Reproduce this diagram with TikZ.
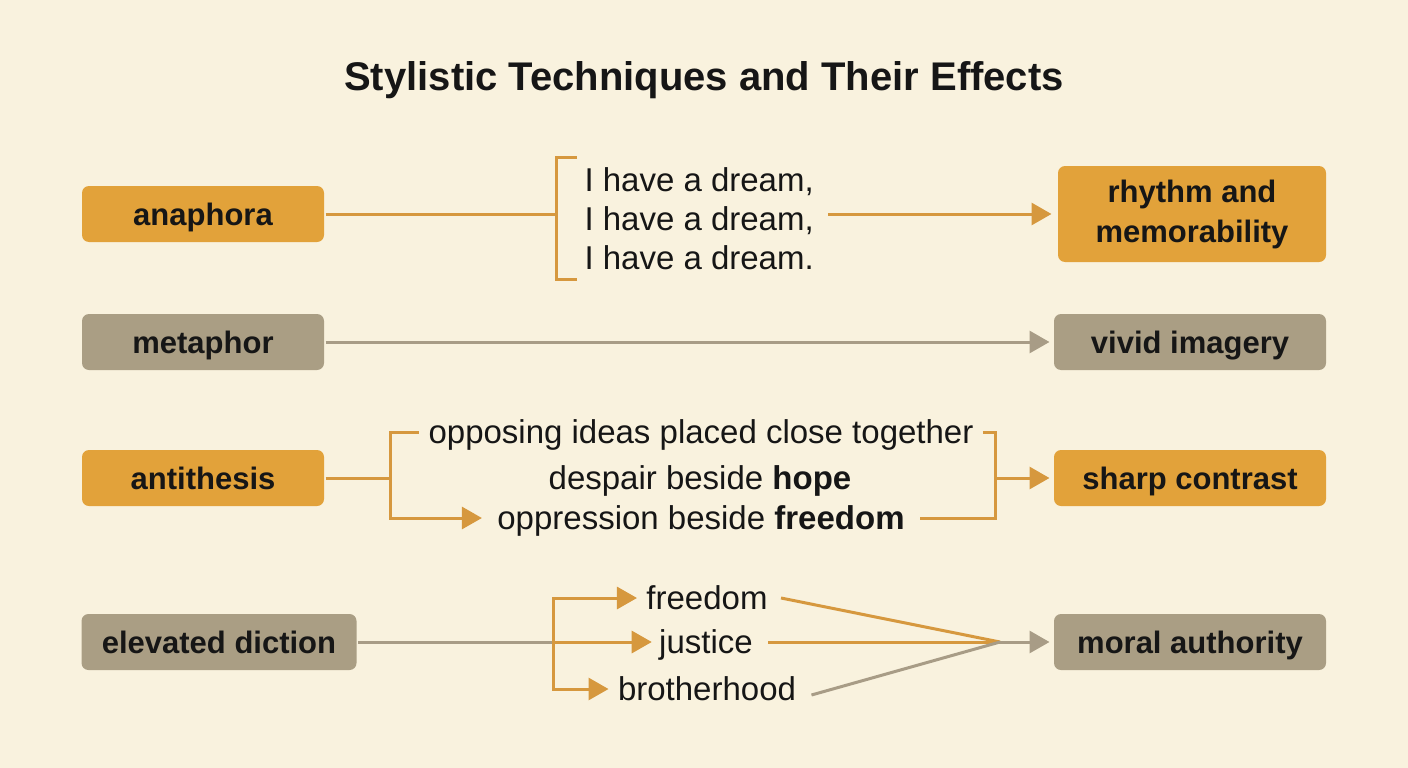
\documentclass[tikz,border=0pt]{standalone}
\usepackage{fontspec}
\setmainfont{Liberation Sans}
\usetikzlibrary{positioning,arrows.meta}
\definecolor{paper}{RGB}{249,242,222}
\definecolor{ochre}{RGB}{226,162,58}
\definecolor{taupe}{RGB}{170,158,132}
\definecolor{ochreline}{RGB}{214,152,62}
\definecolor{taupeline}{RGB}{168,156,134}
\definecolor{ink}{RGB}{22,22,22}

\begin{document}
\begin{tikzpicture}[x=1pt, y=-1pt, >={Triangle[length=20pt,width=22pt]}, line width=3pt,
   tech/.style={rounded corners=7pt, minimum height=56pt, inner sep=0pt, text height=22pt, text depth=0pt, text=ink, font=\fontsize{31}{40}\selectfont\bfseries},
   warm/.style={tech, fill=ochre},
   cool/.style={tech, fill=taupe},
   phrase/.style={inner sep=0pt, text height=22pt, text depth=0pt, text=ink, font=\fontsize{33}{39}\selectfont},
   oline/.style={draw=ochreline},
   gline/.style={draw=taupeline}]
   \fill[paper] (0,0) rectangle (1408,768);
   \useasboundingbox (0,0) rectangle (1408,768);
   \node[font=\fontsize{40}{48}\selectfont\bfseries, text=ink] (title) at (704,80) {Stylistic Techniques and Their Effects};

   % anaphora
   \node[warm, minimum width=242pt] (anaphora) at (203,214) {anaphora};
   \node[warm, minimum width=268pt, minimum height=96pt, text height=, text depth=, align=center] (rhythm) at (1192,214) {rhythm and\\memorability};
   \node[phrase, text height=, text depth=, align=left, anchor=west] (dream) at (583,219) {I have a dream,\\I have a dream,\\I have a dream.};
   \coordinate (brk) at (556,214);
   \draw[oline] (anaphora.east) -- (brk);
   \draw[oline] (577,157) -- (556,157) -- (556,279) -- (577,279);
   \draw[oline, ->] (828,214) -- ([xshift=-5pt]rhythm.west);

   % metaphor
   \node[cool, minimum width=242pt] (metaphor) at (203,342) {metaphor};
   \node[cool, minimum width=272pt] (imagery) at (1190,342) {vivid imagery};
   \draw[gline, ->] (metaphor) -- ([xshift=-3pt]imagery.west);

   % antithesis
   \node[warm, minimum width=242pt] (antithesis) at (203,478) {antithesis};
   \node[warm, minimum width=272pt] (contrast) at (1190,478) {sharp contrast};
   \node[phrase] (opposing) at (701,432) {opposing ideas placed close together};
   \node[phrase] (despair) at (700,478) {despair beside \textbf{hope}};
   \node[phrase] (oppression) at (701,518) {oppression beside \textbf{freedom}};
   \coordinate (split) at (390,478);
   \coordinate (join) at (995,478);
   \draw[oline] (antithesis) -- (split);
   \draw[oline] (split) |- ([xshift=-8pt]opposing.west);
   \draw[oline, ->] (split) |- ([xshift=-14pt]oppression.west);
   \draw[oline] ([xshift=8pt]opposing.east) -| (join);
   \draw[oline] ([xshift=14pt]oppression.east) -| (join);
   \draw[oline, ->] (join) -- ([xshift=-3pt]contrast.west);

   % elevated diction
   \node[cool, minimum width=275pt] (diction) at (219,642) {elevated diction};
   \node[cool, minimum width=272pt] (authority) at (1190,642) {moral authority};
   \node[phrase] (freedom) at (707,598) {freedom};
   \node[phrase] (justice) at (706,642) {justice};
   \node[phrase] (brotherhood) at (707,689) {brotherhood};
   \coordinate (fork) at (553,642);
   \coordinate (meet) at (1000,642);
   \draw[gline] (diction) -- (fork);
   \draw[oline, ->] (fork) |- ([xshift=-8pt]freedom.west);
   \draw[oline, ->] (fork) -- ([xshift=-6pt]justice.west);
   \draw[oline, ->] (fork) |- ([xshift=-8pt]brotherhood.west);
   \draw[oline] ([xshift=12pt]freedom.east) -- (meet);
   \draw[oline] ([xshift=14pt]justice.east) -- (meet);
   \draw[gline] ([xshift=14pt, yshift=-6pt]brotherhood.east) -- (meet);
   \draw[gline, ->] (meet) -- ([xshift=-3pt]authority.west);
\end{tikzpicture}
\end{document}
